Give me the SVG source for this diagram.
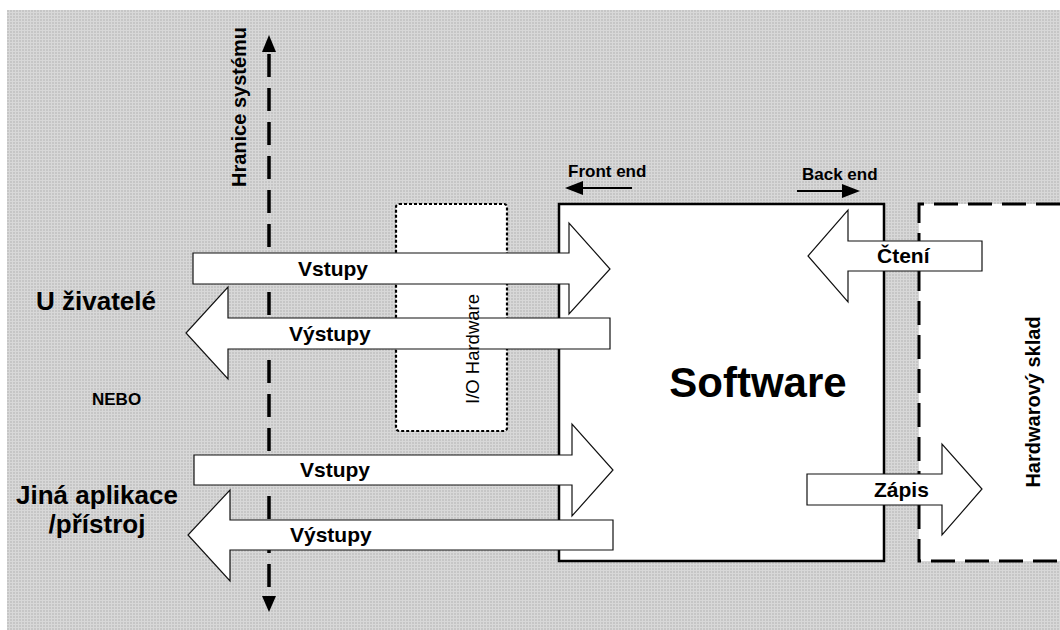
<svg xmlns="http://www.w3.org/2000/svg" width="1060" height="630" viewBox="0 0 1060 630">
  <defs>
    <!-- fine grey grid used as the page background -->
    <pattern id="grid" width="3" height="3" patternUnits="userSpaceOnUse">
      <rect width="3" height="3" fill="#c6c6c6"/>
      <rect width="3" height="1" fill="#d8d8d8"/>
      <rect width="1" height="3" fill="#d8d8d8"/>
    </pattern>
    <style>
      .lbl { font-family: "Liberation Sans", Arial, sans-serif; font-weight: bold; fill: #000; }
      .reg { font-family: "Liberation Sans", Arial, sans-serif; fill: #000; }
      .blk { fill: #fff; stroke: #111; stroke-width: 1.2; stroke-linejoin: miter; }
      .flow { font-family: "Liberation Sans", Arial, sans-serif; font-weight: bold; font-size: 21px; fill: #000; }
    </style>
  </defs>

  <!-- background -->
  <rect x="7" y="10" width="1053" height="620" fill="url(#grid)"/>

  <!-- system boundary -->
  <g id="boundary">
    <line x1="269" y1="50" x2="269" y2="598" stroke="#000" stroke-width="3.5" stroke-dasharray="23 11" stroke-dashoffset="-4"/>
    <polygon points="269,35 262,52 276,52" fill="#000"/>
    <polygon points="269,612 262,596 276,596" fill="#000"/>
    <text class="lbl" font-size="20" transform="translate(246,107) rotate(-90)" text-anchor="middle">Hranice systému</text>
  </g>

  <!-- actors on the left -->
  <g id="users">
    <text class="lbl" font-size="26" x="36" y="310">U živatelé</text>
  </g>
  <g id="or-label">
    <text class="lbl" font-size="17" x="92" y="405">NEBO</text>
  </g>
  <g id="other-app">
    <text class="lbl" font-size="26" x="97" y="504" text-anchor="middle">Jiná aplikace</text>
    <text class="lbl" font-size="26" x="97" y="533" text-anchor="middle">/přístroj</text>
  </g>

  <!-- I/O hardware frame -->
  <g id="io-hardware">
    <rect x="396" y="204" width="111" height="227" rx="3" fill="#fff" stroke="#000" stroke-width="2.2" stroke-dasharray="3 2"/>
  </g>

  <!-- software -->
  <g id="software">
    <rect x="559" y="204" width="325" height="357" fill="#fff" stroke="#000" stroke-width="2.5"/>
    <text class="lbl" font-size="42" x="758" y="397" text-anchor="middle">Software</text>
    <text class="lbl" font-size="17" x="568" y="177">Front end</text>
    <line x1="632" y1="188" x2="580" y2="188" stroke="#000" stroke-width="2"/>
    <polygon points="565,188 583,181 583,195" fill="#000"/>
    <text class="lbl" font-size="17" x="802" y="180">Back end</text>
    <line x1="797" y1="191" x2="846" y2="191" stroke="#000" stroke-width="2"/>
    <polygon points="860,191 842,184 842,198" fill="#000"/>
  </g>

  <!-- hardware storage -->
  <g id="storage">
    <path d="M1060,204 H919 V561 H1060" fill="#fff" stroke="#000" stroke-width="3" stroke-dasharray="24 10"/>
    <text class="lbl" font-size="20" transform="translate(1040,402) rotate(-90)" text-anchor="middle">Hardwarový sklad</text>
  </g>

  <!-- data flows -->
  <g id="connectors">
    <polygon class="blk" points="193,253 569,253 569,223 610,269 569,314 569,284 193,284"/>
    <text class="flow" x="298" y="276">Vstupy</text>

    <polygon class="blk" points="610,318 228,318 228,287 186,333 228,379 228,349 610,349"/>
    <text class="flow" x="289" y="341">Výstupy</text>

    <polygon class="blk" points="194,455 572,455 572,424 613,470 572,516 572,485 194,485"/>
    <text class="flow" x="300" y="477">Vstupy</text>

    <polygon class="blk" points="613,520 230,520 230,490 188,535 230,581 230,550 613,550"/>
    <text class="flow" x="290" y="542">Výstupy</text>

    <polygon class="blk" points="982,241 848,241 848,210 808,256 848,302 848,271 982,271"/>
    <text class="flow" x="877" y="263">Čtení</text>

    <polygon class="blk" points="807,474 942,474 942,444 982,489 942,535 942,505 807,505"/>
    <text class="flow" x="874" y="497">Zápis</text>
  </g>

  <!-- I/O hardware caption, drawn over the flows -->
  <g id="io-hardware-label">
    <text class="reg" font-size="18.5" transform="translate(479,349) rotate(-90)" text-anchor="middle">I/O Hardware</text>
  </g>
</svg>
